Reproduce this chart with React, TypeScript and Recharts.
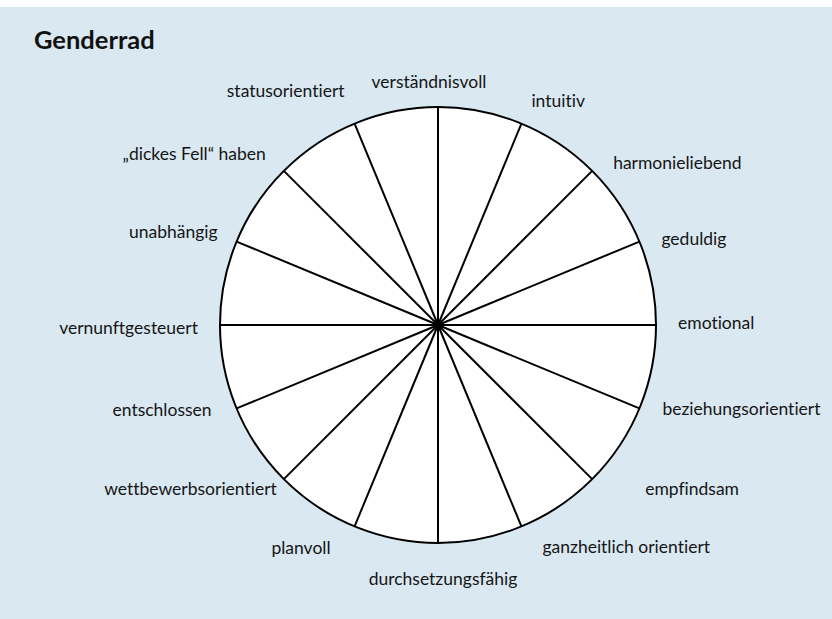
import React from 'react';
import { RadarChart, PolarGrid, PolarAngleAxis, PolarRadiusAxis } from 'recharts';

const title = 'Genderrad';

const traits = [
  'verständnisvoll',
  'intuitiv',
  'harmonieliebend',
  'geduldig',
  'emotional',
  'beziehungsorientiert',
  'empfindsam',
  'ganzheitlich orientiert',
  'durchsetzungsfähig',
  'planvoll',
  'wettbewerbsorientiert',
  'entschlossen',
  'vernunftgesteuert',
  'unabhängig',
  '„dickes Fell“ haben',
  'statusorientiert',
];

// label offsets (dx, dy) from the end of each spoke, layout only
const labelNudges: [number, number][] = [
  [-9, -19],
  [10, -17],
  [21, -2],
  [22, 3],
  [22, 4],
  [23, 7],
  [53, 16],
  [21, 27],
  [5, 42],
  [-24, 28],
  [-7, 16],
  [-25, 8],
  [-22, 9],
  [-19, -4],
  [-18, -11],
  [-10, -27],
];

const data = traits.map((t) => ({ trait: t }));

const W = 832;
const H = 612;
const TOP = 7;
const CX = 438;
const CY = 318;
const R = 218;
const BG = '#d9e8f1';
const FONT = 'Lato, "Noto Sans", sans-serif';

const RAD = Math.PI / 180;

const Tick = (props: any) => {
  const { payload, index } = props;
  const i = typeof index === 'number' ? index : payload.index;
  const angle = payload.coordinate;
  const cos = Math.cos(-angle * RAD);
  const sin = Math.sin(-angle * RAD);
  const ex = CX + cos * R;
  const ey = CY + sin * R;
  const n = labelNudges[i] || [0, 0];
  const anchor = cos > 0.01 ? 'start' : cos < -0.01 ? 'end' : 'middle';
  return (
    <text
      x={ex + n[0]}
      y={ey + n[1]}
      textAnchor={anchor}
      fontFamily={FONT}
      fontSize={17.5}
      fill="#151515"
      style={{ fontVariantLigatures: 'none', fontFeatureSettings: '"liga" 0, "clig" 0' }}
    >
      {payload.value}
    </text>
  );
};

export default function App() {
  return (
    <div
      style={{
        position: 'absolute',
        left: 0,
        top: TOP,
        width: W,
        height: H,
        background: BG,
        overflow: 'hidden',
      }}
    >
      <div
        style={{
          position: 'absolute',
          left: CX - R,
          top: CY - R,
          width: 2 * R,
          height: 2 * R,
          borderRadius: '50%',
          background: '#ffffff',
        }}
      />
      <div
        style={{
          position: 'absolute',
          left: 34,
          top: 17,
          fontFamily: FONT,
          fontWeight: 700,
          fontSize: 25.5,
          color: '#111',
          lineHeight: '30px',
          fontVariantLigatures: 'none',
        }}
      >
        {title}
      </div>
      <div style={{ position: 'absolute', left: 0, top: 0 }}>
        <RadarChart
          width={W}
          height={H}
          data={data}
          cx={CX}
          cy={CY}
          outerRadius={R}
          startAngle={90}
          endAngle={-270}
          margin={{ top: 0, right: 0, bottom: 0, left: 0 }}
        >
          <PolarGrid
            gridType="circle"
            polarRadius={[R]}
            stroke="#000"
            strokeWidth={2}
          />
          <PolarRadiusAxis
            domain={[0, 1]}
            tickCount={2}
            tick={false}
            axisLine={false}
          />
          <PolarAngleAxis
            dataKey="trait"
            axisLine={false}
            tickLine={false}
            tick={<Tick />}
          />
        </RadarChart>
      </div>
    </div>
  );
}
